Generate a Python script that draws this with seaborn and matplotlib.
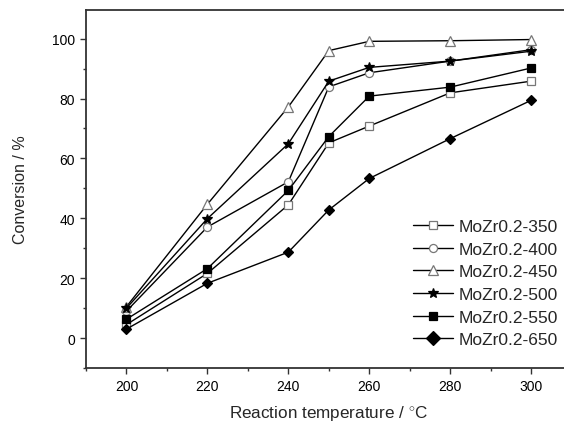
import numpy as np
import pandas as pd
import matplotlib
matplotlib.use("Agg")
import matplotlib.pyplot as plt
from matplotlib.ticker import MultipleLocator
import seaborn as sns

temps = [200, 220, 240, 250, 260, 280, 300]
samples = ["MoZr0.2-350", "MoZr0.2-400", "MoZr0.2-450", "MoZr0.2-500", "MoZr0.2-550", "MoZr0.2-650"]
conv_350 = [4.5, 21.6, 44.5, 65.2, 70.8, 81.9, 85.8]
conv_400 = [9.0, 37.1, 52.2, 83.9, 88.6, 92.5, 96.3]
conv_450 = [10.5, 44.7, 77.2, 96.0, 99.1, 99.3, 99.7]
conv_500 = [10.0, 39.9, 64.9, 85.8, 90.4, 92.5, 95.8]
conv_550 = [6.3, 23.2, 49.3, 67.3, 80.8, 83.8, 90.2]
conv_650 = [3.0, 18.3, 28.7, 42.8, 53.3, 66.6, 79.4]

sns.set_style("ticks")
plt.rcParams["font.family"] = ["Liberation Sans", "DejaVu Sans"]
plt.rcParams["mathtext.fontset"] = "custom"
plt.rcParams["mathtext.rm"] = "Liberation Sans"

rows = []
for name, vals in zip(samples, [conv_350, conv_400, conv_450, conv_500, conv_550, conv_650]):
    for t, v in zip(temps, vals):
        rows.append({"sample": name, "temp": t, "conv": v})
df = pd.DataFrame(rows)

styles = {
    "MoZr0.2-350": dict(marker="s", mfc="white", mec="#777777", ms=5.2),
    "MoZr0.2-400": dict(marker="o", mfc="white", mec="#777777", ms=5.8),
    "MoZr0.2-450": dict(marker="^", mfc="white", mec="#777777", ms=6.8),
    "MoZr0.2-500": dict(marker="*", mfc="black", mec="black", ms=7.5),
    "MoZr0.2-550": dict(marker="s", mfc="black", mec="black", ms=5.2),
    "MoZr0.2-650": dict(marker="D", mfc="black", mec="black", ms=5.5),
}

fig = plt.figure(figsize=(5.64, 4.27), dpi=100)
ax = fig.add_axes([0.1525, 0.1358, 0.861, 0.838])

for name in samples:
    st = styles[name]
    sub = df[df["sample"] == name]
    sns.lineplot(data=sub, x="temp", y="conv", ax=ax, color="black", lw=1.0,
                 marker=st["marker"], markersize=st["ms"], markerfacecolor=st["mfc"],
                 markeredgecolor=st["mec"], markeredgewidth=0.9, label=name)

ax.set_xlim(190, 310)
ax.set_ylim(-10, 109.5)
ax.xaxis.set_major_locator(MultipleLocator(20))
ax.xaxis.set_minor_locator(MultipleLocator(10))
ax.yaxis.set_major_locator(MultipleLocator(20))
ax.yaxis.set_minor_locator(MultipleLocator(10))
ax.tick_params(which="major", direction="out", length=4.5, width=1.0, labelsize=10,
               color="#333333", labelcolor="black")
ax.tick_params(which="minor", direction="out", length=2.5, width=1.0, color="#333333")
for sp in ax.spines.values():
    sp.set_linewidth(1.3)
    sp.set_color("#333333")
ax.spines["right"].set_visible(False)

ax.set_xlabel("Reaction temperature / $^{\\circ}$C", fontsize=12.3)
ax.set_ylabel("Conversion / %", fontsize=11.5)
ax.xaxis.set_label_coords(0.5, -0.1)
ax.yaxis.set_label_coords(-0.119, 0.5)

leg = ax.legend(loc="upper left", bbox_to_anchor=(413 / 564, 1 - 220 / 427), bbox_transform=fig.transFigure,
                frameon=False, fontsize=12.5, handlelength=2.3, handletextpad=0.3,
                labelspacing=0.43, borderpad=0, borderaxespad=0)
for h, name in zip(leg.legend_handles, samples):
    if name == "MoZr0.2-650":
        h.set_markersize(7)

fig.savefig("out.png", dpi=100)
